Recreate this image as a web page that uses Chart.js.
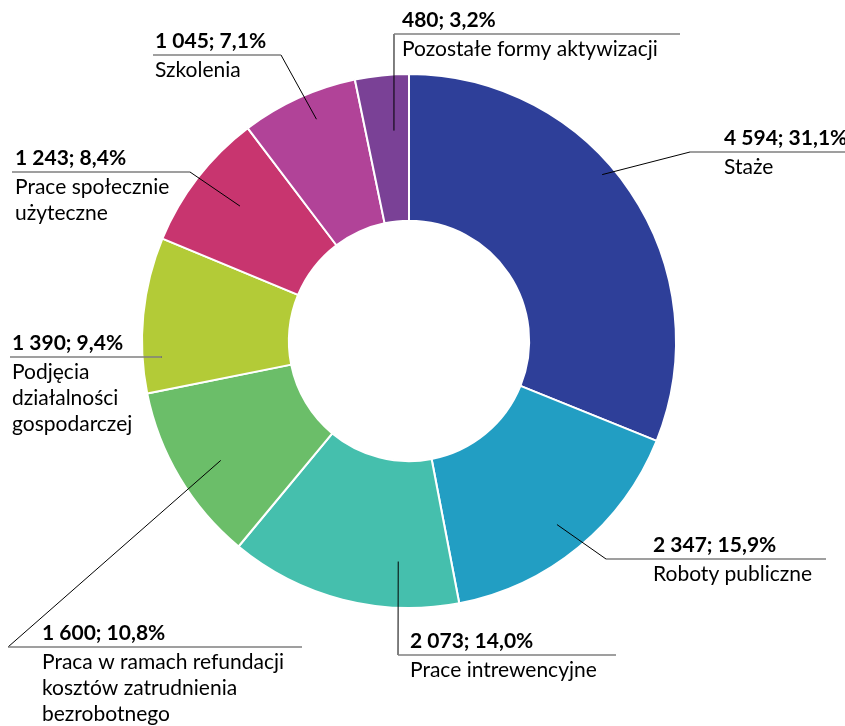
<!DOCTYPE html>
<html>
<head>
<meta charset="utf-8">
<script src="https://cdn.jsdelivr.net/npm/chart.js@4.4.1/dist/chart.umd.min.js"></script>
<style>
  html, body { margin: 0; padding: 0; background: #fff; }
  #wrap { width: 845px; height: 726px; position: relative; }
</style>
</head>
<body>
<div id="wrap"><canvas id="chart"></canvas></div>
<script>
// ===== DATA =====
const categories = [
  ['Staże'],
  ['Roboty publiczne'],
  ['Prace intrewencyjne'],
  ['Praca w ramach refundacji', 'kosztów zatrudnienia', 'bezrobotnego'],
  ['Podjęcia', 'działalności', 'gospodarczej'],
  ['Prace społecznie', 'użyteczne'],
  ['Szkolenia'],
  ['Pozostałe formy aktywizacji']
];
const values = [4594, 2347, 2073, 1600, 1390, 1243, 1045, 480];
const colors = ['#2E3F99', '#229EC3', '#45BFAD', '#6BBE69', '#B3CB37', '#C8356F', '#B14398', '#7A4196'];

// ===== LABEL LAYOUT =====
// t / rf: where the leader starts inside the slice (fraction of angle, fraction of radius)
// lx1, lx2, ly: horizontal rule; end: which rule end the leader joins; tx: text left edge
const labelLayout = [
  { t: 0.44, rf: 0.955, lx1: 690, lx2: 845, ly: 152, end: 'left',  tx: 724 },
  { t: 0.51, rf: 0.883, lx1: 606, lx2: 826, ly: 559, end: 'left',  tx: 653 },
  { t: 0.27, rf: 0.827, lx1: 398, lx2: 616, ly: 655, end: 'left',  tx: 410 },
  { t: 0.46, rf: 0.835, lx1: 8,   lx2: 302, ly: 647, end: 'left',  tx: 42 },
  { t: 0.225, rf: 0.93, lx1: 10,  lx2: 162, ly: 357, end: 'right', tx: 12 },
  { t: 0.53, rf: 0.81,  lx1: 12,  lx2: 190, ly: 172, end: 'right', tx: 15 },
  { t: 0.57, rf: 0.90,  lx1: 153, lx2: 281, ly: 55,  end: 'right', tx: 155 },
  { t: 0.65, rf: 0.79,  lx1: 394, lx2: 680, ly: 34,  end: 'left',  tx: 402 }
];

const FONT = 'Lato, "Open Sans", sans-serif';
const total = values.reduce((a, b) => a + b, 0);

function fmtNum(v) {
  return String(v).replace(/\B(?=(\d{3})+(?!\d))/g, ' ');
}
function fmtPct(v) {
  return (v / total * 100).toFixed(1).replace('.', ',') + '%';
}

// ===== LABELS PLUGIN =====
const leaderLabels = {
  id: 'leaderLabels',
  afterDraw(chart) {
    const ctx = chart.ctx;
    const meta = chart.getDatasetMeta(0);
    ctx.save();
    meta.data.forEach((arc, i) => {
      const L = labelLayout[i];
      const a = arc.startAngle + L.t * (arc.endAngle - arc.startAngle);
      const r = L.rf * arc.outerRadius;
      const sx = arc.x + Math.cos(a) * r;
      const sy = arc.y + Math.sin(a) * r;
      const ex = L.end === 'left' ? L.lx1 : L.lx2;

      ctx.strokeStyle = '#000';
      ctx.lineWidth = 1;
      ctx.beginPath();
      ctx.moveTo(sx, sy);
      ctx.lineTo(ex, L.ly);
      ctx.stroke();

      ctx.strokeStyle = '#7f7f7f';
      ctx.lineWidth = 1.5;
      ctx.beginPath();
      ctx.moveTo(L.lx1, L.ly);
      ctx.lineTo(L.lx2, L.ly);
      ctx.stroke();

      ctx.fillStyle = '#000';
      ctx.textBaseline = 'middle';
      ctx.textAlign = 'left';
      ctx.font = 'bold 21px ' + FONT;
      ctx.fillText(fmtNum(values[i]) + '; ' + fmtPct(values[i]), L.tx, L.ly - 14);
      ctx.font = '21px ' + FONT;
      categories[i].forEach((line, k) => {
        ctx.fillText(line, L.tx, L.ly + 15 + k * 26);
      });
    });
    ctx.restore();
  }
};

// ===== CHART =====
new Chart(document.getElementById('chart'), {
  type: 'doughnut',
  data: {
    labels: categories,
    datasets: [{
      data: values,
      backgroundColor: colors,
      borderColor: '#ffffff',
      borderWidth: 2
    }]
  },
  options: {
    responsive: true,
    maintainAspectRatio: false,
    animation: false,
    cutout: '45%',
    layout: { padding: { top: 73, bottom: 117, left: 141, right: 168 } },
    plugins: {
      legend: { display: false },
      tooltip: { enabled: false }
    }
  },
  plugins: [leaderLabels]
});
</script>
</body>
</html>
